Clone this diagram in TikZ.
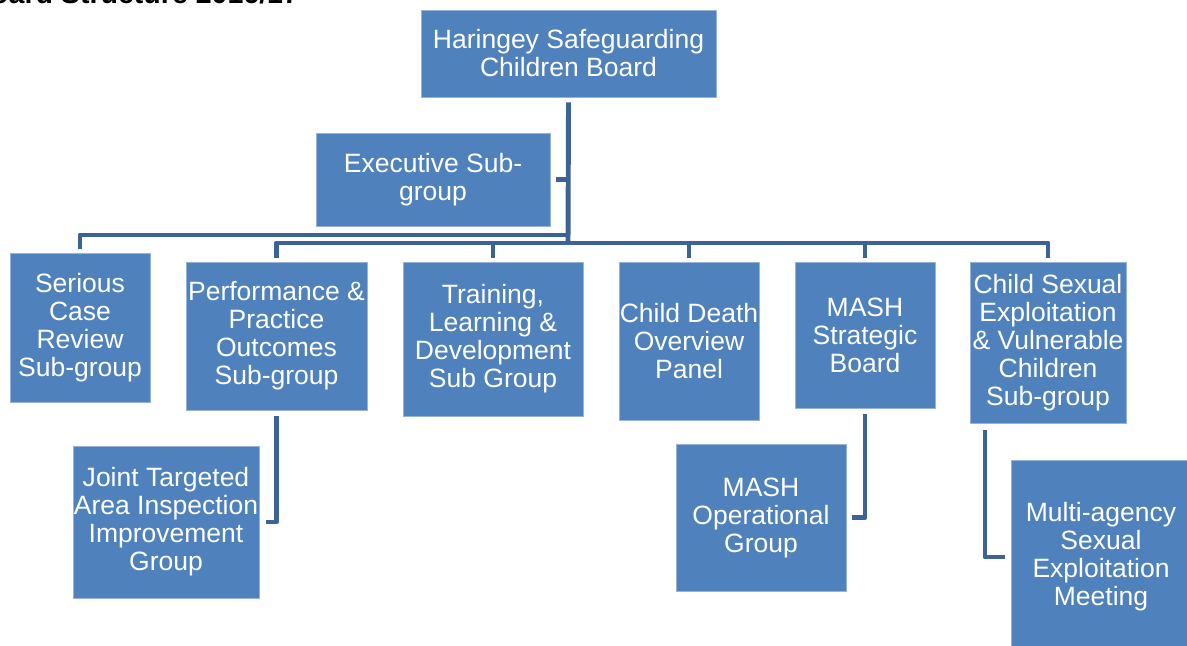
\documentclass[tikz,border=0pt]{standalone}
\usepackage{fontspec}
\setmainfont{Liberation Sans}
\usepackage{tikz}
\usetikzlibrary{calc}
\definecolor{boardblue}{RGB}{79,129,189}
\definecolor{boardedge}{RGB}{150,180,218}
\definecolor{linkblue}{RGB}{61,99,149}

\begin{document}
\begin{tikzpicture}[x=0.025cm, y=-0.025cm,
    group/.style={rectangle, fill=boardblue, draw=boardedge, line width=0.5pt,
        inner sep=0pt, align=center, text=white,
        font=\fontsize{18.85}{19.92}\selectfont},
    link/.style={draw=linkblue, line width=3.5pt, line join=round}
    ]
    \useasboundingbox (0,0) rectangle (1187,645);
    \clip (0,0) rectangle (1187,645);
    \node[anchor=base east, font=\fontsize{20.3}{22}\selectfont\bfseries] (title) at (304,3) {Board Structure 2016/17};
    \node[group, minimum width=7.375cm, minimum height=2.175cm] (hscb) at (568.5,53.5) {Haringey Safeguarding\\Children Board};
    \node[group, minimum width=5.85cm, minimum height=2.325cm] (exec) at (433,179.5) {Executive Sub-\\group};
    \node[group, minimum width=3.5cm, minimum height=3.725cm] (scr) at (80,327.5) {Serious\\Case\\Review\\Sub-group};
    \node[group, minimum width=4.525cm, minimum height=3.7cm] (ppo) at (276.5,336) {Performance \&\\Practice\\Outcomes\\Sub-group};
    \node[group, minimum width=4.5cm, minimum height=3.85cm] (tld) at (493,339) {Training,\\Learning \&\\Development\\Sub Group};
    \node[group, minimum width=3.5cm, minimum height=3.95cm] (cdop) at (689,341) {Child Death\\Overview\\Panel};
    \node[group, minimum width=3.5cm, minimum height=3.65cm] (mss) at (865,335) {MASH\\Strategic\\Board};
    \node[group, minimum width=3.9cm, minimum height=4.025cm] (cse) at (1048,342.5) {Child Sexual\\Exploitation\\\& Vulnerable\\Children\\Sub-group};
    \node[group, minimum width=4.65cm, minimum height=3.8cm] (jta) at (166,522) {Joint Targeted\\Area Inspection\\Improvement\\Group};
    \node[group, minimum width=4.25cm, minimum height=3.675cm] (mog) at (761,517.5) {MASH\\Operational\\Group};
    \node[group, minimum width=4.5cm, minimum height=4.85cm] (mase) at (1101,557) {Multi-agency\\Sexual\\Exploitation\\Meeting};
    \coordinate (bar1) at (568,235);
    \coordinate (bar2) at (568,243);
    \draw[link] ($(hscb.south)+(0,5)$) -- (bar2);
    \draw[link] ($(exec.east)+(6,0)$) -- (exec.east -| bar1);
    \draw[link] (bar1) -| ($(scr.north)+(0,-4)$);
    \draw[link] ($(ppo.north)+(0,-4)$) |- (bar2) -| ($(cse.north)+(0,-4)$);
    \draw[link] ($(tld.north)+(0,-4)$) -- (tld.north |- bar2);
    \draw[link] ($(cdop.north)+(0,-4)$) -- (cdop.north |- bar2);
    \draw[link] ($(mss.north)+(0,-4)$) -- (mss.north |- bar2);
    \draw[link] ($(ppo.south)+(0,6)$) |- ($(jta.east)+(7,0)$);
    \draw[link] ($(mss.south)+(0,6)$) |- ($(mog.east)+(6,0)$);
    \draw[link] ($(cse.south)+(-63,7)$) |- ($(mase.west)+(-6,0)$);
\end{tikzpicture}
\end{document}
